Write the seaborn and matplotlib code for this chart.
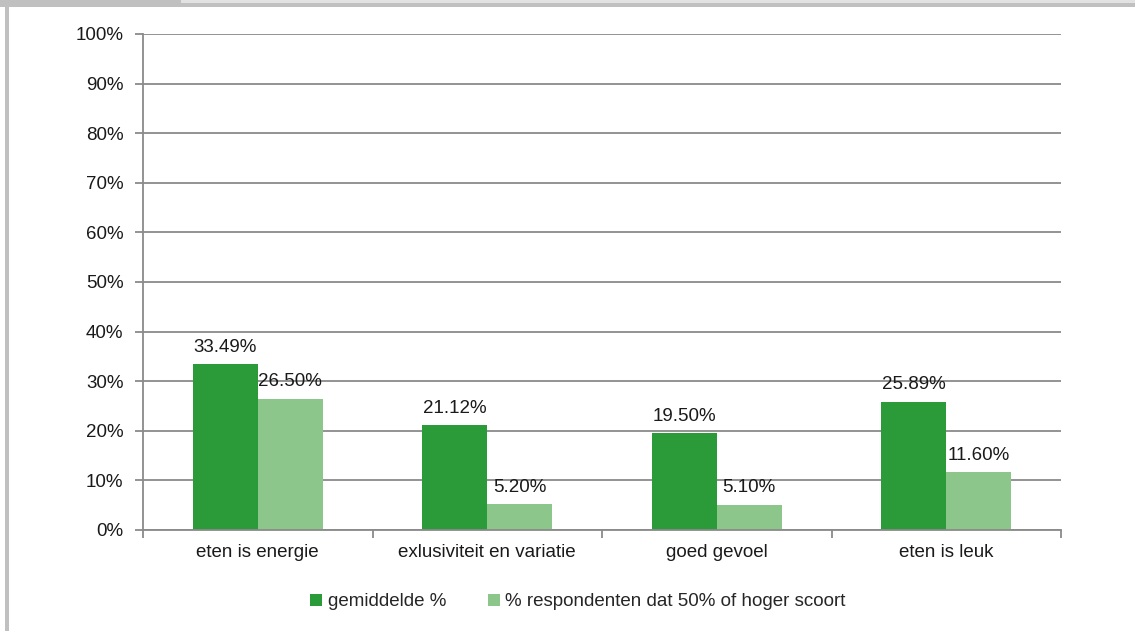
import matplotlib
matplotlib.use("Agg")
import matplotlib.pyplot as plt
import matplotlib.patches as mpatches
from matplotlib.ticker import FixedLocator, NullFormatter
import seaborn as sns
import pandas as pd

categories = ["eten is energie", "exlusiviteit en variatie", "goed gevoel", "eten is leuk"]
series_names = ["gemiddelde %", "% respondenten dat 50% of hoger scoort"]
gemiddelde = [33.49, 21.12, 19.50, 25.89]
respondenten = [26.50, 5.20, 5.10, 11.60]
y_ticks = [0, 10, 20, 30, 40, 50, 60, 70, 80, 90, 100]
colors = ["#2b9b3a", "#8cc68a"]

df = pd.DataFrame({
    "cat": categories * 2,
    "series": [series_names[0]] * 4 + [series_names[1]] * 4,
    "value": gemiddelde + respondenten,
})

sns.set_theme(style="white")
plt.rcParams["font.family"] = ["Liberation Sans Narrow", "Liberation Sans", "DejaVu Sans"]
FS = 13.5

fig = plt.figure(figsize=(11.35, 6.31), dpi=100)
ax = fig.add_axes([143 / 1135, 1 - 530 / 631, (1061 - 143) / 1135, (530 - 34) / 631])

sns.barplot(data=df, x="cat", y="value", hue="series", hue_order=series_names,
            order=categories, palette=colors, width=0.567, saturation=1,
            dodge=True, ax=ax, legend=True, linewidth=0, edgecolor="none")

for container in ax.containers:
    for bar in container:
        h = bar.get_height()
        ax.annotate(f"{h:.2f}%", (bar.get_x() + bar.get_width() / 2, h),
                    xytext=(0, 6), textcoords="offset points",
                    ha="center", va="bottom", fontsize=FS, color="#1a1a1a")

ax.set_ylim(0, 100)
ax.set_xlim(-0.5, 3.5)
ax.set_yticks(y_ticks)
ax.set_yticklabels([f"{t}%" for t in y_ticks])
ax.yaxis.grid(True, color="#8a8a8a", linewidth=1.3)
ax.set_axisbelow(True)
ax.set_xlabel("")
ax.set_ylabel("")

for s in ["top", "right"]:
    ax.spines[s].set_visible(False)
for s in ["left", "bottom"]:
    ax.spines[s].set_color("#8a8a8a")
    ax.spines[s].set_linewidth(1.3)

ax.tick_params(axis="y", length=6, width=1.3, color="#8a8a8a", labelsize=FS,
               labelcolor="#1a1a1a", pad=8, left=True)
ax.tick_params(axis="x", which="major", length=0, labelsize=FS,
               labelcolor="#1a1a1a", pad=10)
ax.xaxis.set_minor_locator(FixedLocator([-0.5, 0.5, 1.5, 2.5, 3.5]))
ax.xaxis.set_minor_formatter(NullFormatter())
ax.tick_params(axis="x", which="minor", length=6, width=1.3, color="#8a8a8a", bottom=True)

handles, labels = ax.get_legend_handles_labels()
ax.legend(handles, labels, loc="center", bbox_to_anchor=(578 / 1135, 1 - 602 / 631),
          bbox_transform=fig.transFigure,
          frameon=False, ncol=2, fontsize=FS, handlelength=0.65, handleheight=0.65,
          handletextpad=0.3, columnspacing=2.2)

# frame decoration
fig.patches.append(mpatches.Rectangle((0, 1 - 7 / 631), 1, 7 / 631, transform=fig.transFigure,
                                      facecolor="#c0c0c0", edgecolor="none"))
fig.patches.append(mpatches.Rectangle((181 / 1135, 1 - 3 / 631), 1, 3 / 631, transform=fig.transFigure,
                                      facecolor="#e2e2e2", edgecolor="none"))
fig.patches.append(mpatches.Rectangle((5 / 1135, 0), 4 / 1135, 1, transform=fig.transFigure,
                                      facecolor="#c0c0c0", edgecolor="none"))

fig.savefig("out.png", dpi=100)
